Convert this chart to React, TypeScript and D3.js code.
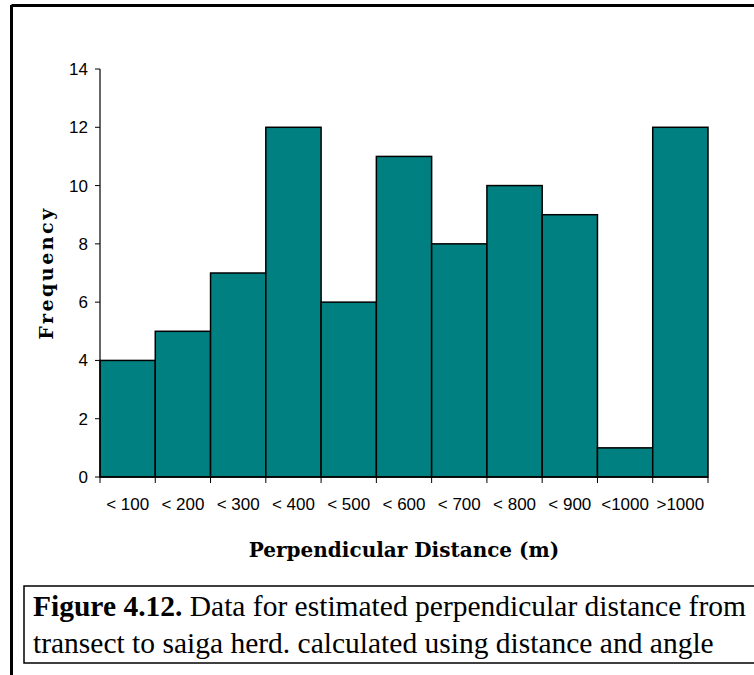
import * as d3 from "d3";

const categories = ["< 100", "< 200", "< 300", "< 400", "< 500", "< 600", "< 700", "< 800", "< 900", "<1000", ">1000"];
const frequency = [4, 5, 7, 12, 6, 11, 8, 10, 9, 1, 12];
const yTicks = [0, 2, 4, 6, 8, 10, 12, 14];

export default function App() {
  const left = 100, right = 708, top = 69, bottom = 477;
  const x = d3.scaleBand().domain(categories).range([left, right]).padding(0);
  const y = d3.scaleLinear().domain([0, 14]).range([bottom, top]);
  const bw = x.bandwidth();

  return (
    <svg width={754} height={675} style={{ position: "absolute", left: 0, top: 0 }}>
      <rect x={0} y={0} width={754} height={675} fill="white" />
      {/* outer frame */}
      <line x1={11.5} y1={5.5} x2={754} y2={5.5} stroke="black" strokeWidth={3} />
      <line x1={11.5} y1={5} x2={11.5} y2={675} stroke="black" strokeWidth={3} />

      {frequency.map((v, i) => (
        <rect key={i} x={x(categories[i])!} y={y(v)} width={bw} height={y(0) - y(v)}
          fill="#008080" stroke="black" strokeWidth={1.5} />
      ))}

      {/* y axis */}
      <line x1={left} y1={top} x2={left} y2={bottom} stroke="black" strokeWidth={1.2} />
      {yTicks.map((t) => (
        <g key={t}>
          <line x1={left - 5} x2={left} y1={y(t)} y2={y(t)} stroke="black" />
          <text x={left - 12} y={y(t) + 6} textAnchor="end" fontFamily="Liberation Sans, Arial" fontSize={17}>{t}</text>
        </g>
      ))}
      {/* x axis */}
      <line x1={left} y1={bottom} x2={right} y2={bottom} stroke="black" strokeWidth={1.5} />
      {[...categories.map((c) => x(c)!), right].map((px, i) => (
        <line key={i} x1={px} x2={px} y1={bottom} y2={bottom + 6} stroke="black" />
      ))}
      {categories.map((c) => (
        <text key={c} x={x(c)! + bw / 2} y={510} textAnchor="middle" fontFamily="Liberation Sans, Arial" fontSize={17}>{c}</text>
      ))}

      <text x={404} y={557} textAnchor="middle" fontFamily="DejaVu Serif" fontWeight="bold" fontSize={20}>Perpendicular Distance (m)</text>
      <text transform={`translate(53,${(top + bottom) / 2}) rotate(-90)`} textAnchor="middle"
        fontFamily="DejaVu Serif" fontWeight="bold" fontSize={19} letterSpacing={2.5}>Frequency</text>

      {/* caption box */}
      <defs>
        <clipPath id="cap"><rect x={24} y={586} width={740} height={77} /></clipPath>
      </defs>
      <rect x={24} y={586} width={740} height={77} fill="white" stroke="black" strokeWidth={1.5} />
      <g clipPath="url(#cap)" fontFamily="Liberation Serif, Times New Roman" fontSize={29.5}>
        <text x={33} y={616}><tspan fontWeight="bold">Figure 4.12.</tspan> Data for estimated perpendicular distance from</text>
        <text x={33} y={653}>transect to saiga herd. calculated using distance and angle</text>
      </g>
    </svg>
  );
}
